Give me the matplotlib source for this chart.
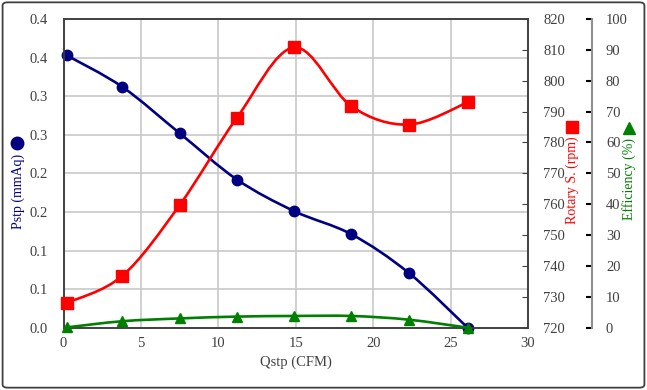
import numpy as np
import matplotlib
matplotlib.use('Agg')
import matplotlib.pyplot as plt
from matplotlib.path import Path
from matplotlib.patches import PathPatch, FancyBboxPatch
from matplotlib.lines import Line2D

plt.rcParams['font.family'] = ['Liberation Serif', 'DejaVu Serif']

qstp = [0.2, 3.8, 7.5, 11.2, 14.9, 18.6, 22.3, 26.1]
pstp = [0.353, 0.312, 0.252, 0.192, 0.151, 0.121, 0.071, 0.0]
rotary = [728.0, 736.8, 759.7, 788.0, 810.8, 791.7, 785.8, 793.0]
efficiency = [0.1, 2.1, 3.0, 3.6, 3.8, 3.8, 2.6, 0.0]

pstp_ticks = [0.0, 0.05, 0.10, 0.15, 0.20, 0.25, 0.30, 0.35, 0.40]
pstp_labels = ['0.0', '0.1', '0.1', '0.2', '0.2', '0.3', '0.3', '0.4', '0.4']
rot_ticks = np.arange(720, 821, 10)
eff_ticks = np.arange(0, 101, 10)
x_ticks = np.arange(0, 31, 5)

NAVY, RED, GREEN = '#000080', '#FF0000', '#008000'
TXT = '#404040'
FS = 10.5


def smooth_path(xs, ys):
    # Excel-like smoothed line: Catmull-Rom segments as cubic Beziers
    p = np.column_stack([xs, ys]).astype(float)
    n = len(p)
    verts = [p[0]]
    codes = [Path.MOVETO]
    for i in range(n - 1):
        p0 = p[i - 1] if i > 0 else p[i]
        p3 = p[i + 2] if i + 2 < n else p[i + 1]
        c1 = p[i] + (p[i + 1] - p0) / 6
        c2 = p[i + 1] - (p3 - p[i]) / 6
        verts += [c1, c2, p[i + 1]]
        codes += [Path.CURVE4] * 3
    return Path(verts, codes)


def draw_series(ax, xs, ys, color, marker, ms):
    ax.add_patch(PathPatch(smooth_path(xs, ys), fill=False, edgecolor=color,
                           lw=1.9, zorder=3))
    ax.plot(xs, ys, linestyle='none', marker=marker, ms=ms, color=color,
            zorder=4, clip_on=False)


fig = plt.figure(figsize=(6.47, 3.90), dpi=100)
ax = fig.add_axes([63.5 / 647, 1 - 327.7 / 390, (528 - 63.5) / 647, (327.7 - 19) / 390])
ax2 = ax.twinx()
ax3 = ax.twinx()

draw_series(ax, qstp, pstp, NAVY, 'o', 7.5)
draw_series(ax2, qstp, rotary, RED, 's', 8)
draw_series(ax3, qstp, efficiency, GREEN, '^', 7.5)

ax.set_xlim(0, 30)
ax.set_ylim(0, 0.4)
ax.set_xticks(x_ticks)
ax.set_yticks(pstp_ticks)
ax.set_yticklabels(pstp_labels)
ax.grid(True, color='#C8C8C8', lw=1.2)
ax.set_axisbelow(True)
ax.tick_params(axis='y', length=0, pad=11, labelsize=FS, labelcolor=TXT)
ax.tick_params(axis='x', length=0, pad=7, labelsize=FS, labelcolor=TXT)

ax2.set_ylim(720, 820)
ax2.set_yticks(rot_ticks)
ax2.tick_params(axis='y', direction='in', length=4, color=TXT, pad=11,
                labelsize=FS, labelcolor=TXT)

ax3.set_ylim(0, 100)
ax3.set_yticks(eff_ticks)
ax3.spines['right'].set_position(('axes', (592 - 63.5) / (528 - 63.5)))
ax3.spines['right'].set_color('#909090')
ax3.spines['right'].set_linewidth(1.5)
ax3.tick_params(axis='y', direction='in', length=4, width=1.5, color='black',
                pad=10, labelsize=FS, labelcolor=TXT)
for s in ['top', 'left', 'bottom']:
    ax3.spines[s].set_visible(False)

for a in (ax, ax2):
    for s in a.spines.values():
        s.set_color(TXT)
        s.set_linewidth(1.2)

ax.set_xlabel('Qstp (CFM)', fontsize=FS, color=TXT, labelpad=4)

fig.text(18 / 647, 1 - 191 / 390, 'Pstp (mmAq)', rotation=90, color=NAVY,
         fontsize=10, ha='center', va='center')
fig.text(572 / 647, 1 - 180 / 390, 'Rotary S. (rpm)', rotation=90, color=RED,
         fontsize=10, ha='center', va='center')
fig.text(629 / 647, 1 - 179 / 390, 'Efficiency (%)', rotation=90, color=GREEN,
         fontsize=10, ha='center', va='center')
fig.add_artist(Line2D([17 / 647], [1 - 143 / 390], marker='o', ms=9, color=NAVY,
                      transform=fig.transFigure))
fig.add_artist(Line2D([572 / 647], [1 - 127 / 390], marker='s', ms=9, color=RED,
                      transform=fig.transFigure))
fig.add_artist(Line2D([629 / 647], [1 - 128 / 390], marker='^', ms=9, color=GREEN,
                      transform=fig.transFigure))

fig.add_artist(FancyBboxPatch((0.004, 0.006), 0.992, 0.988,
                              boxstyle='round,pad=0,rounding_size=0.008',
                              transform=fig.transFigure, fill=False,
                              edgecolor='#404040', lw=1.3))

fig.savefig('out.png', dpi=100)
